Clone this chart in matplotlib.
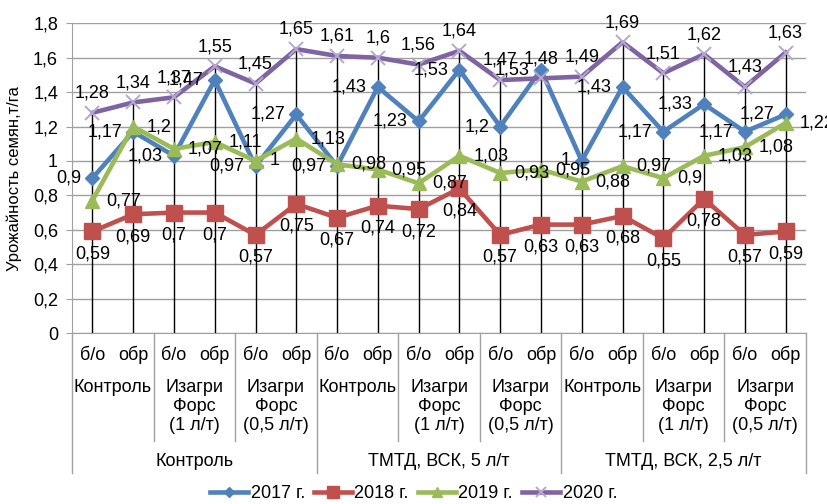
import matplotlib
matplotlib.use("Agg")
import matplotlib.pyplot as plt
from matplotlib.transforms import blended_transform_factory
from matplotlib.lines import Line2D

plt.rcParams['font.family'] = ['Liberation Sans', 'DejaVu Sans']

# данные (т/га)
y2017 = [0.9, 1.17, 1.03, 1.47, 0.97, 1.27, 0.97, 1.43, 1.23, 1.53, 1.2, 1.53, 1.0, 1.43, 1.17, 1.33, 1.17, 1.27]
y2018 = [0.59, 0.69, 0.7, 0.7, 0.57, 0.75, 0.67, 0.74, 0.72, 0.84, 0.57, 0.63, 0.63, 0.68, 0.55, 0.78, 0.57, 0.59]
y2019 = [0.77, 1.2, 1.07, 1.11, 1.0, 1.13, 0.98, 0.95, 0.87, 1.03, 0.93, 0.95, 0.88, 0.97, 0.9, 1.03, 1.08, 1.22]
y2020 = [1.28, 1.34, 1.37, 1.55, 1.45, 1.65, 1.61, 1.6, 1.56, 1.64, 1.47, 1.48, 1.49, 1.69, 1.51, 1.62, 1.43, 1.63]

level1 = ["б/о", "обр"] * 9
level2 = ["Контроль", "Изагри\nФорс\n(1 л/т)", "Изагри\nФорс\n(0,5 л/т)"] * 3
level3 = ["Контроль", "ТМТД, ВСК, 5 л/т", "ТМТД, ВСК, 2,5 л/т"]
years = ["2017 г.", "2018 г.", "2019 г.", "2020 г."]

W, H = 827, 504
fig = plt.figure(figsize=(W / 100, H / 100), dpi=100)
ax = fig.add_axes([72 / W, (H - 333) / H, 734 / W, (333 - 23.3) / H])

FS = 13
x = list(range(len(y2017)))


def fmt(v):
    s = ("%.2f" % v).rstrip("0").rstrip(".")
    return s.replace(".", ",")


# drop lines
tops = [max(a, b, c, d) for a, b, c, d in zip(y2017, y2018, y2019, y2020)]
ax.vlines(x, 0, tops, color="black", lw=1, zorder=2)

series = [
    (y2017, "#4F81BD", "D", 7, "left"),
    (y2018, "#C0504D", "s", 11, "below"),
    (y2019, "#9BBB59", "^", 10, "right"),
    (y2020, "#8064A2", "x", 10, "above"),
]
handles = []
for (ys, col, mk, ms, pos), lab in zip(series, years):
    if mk == "x":
        ln, = ax.plot(x, ys, color=col, lw=3.3, marker=mk, ms=ms, mec="#B4A7D0",
                      mew=1.4, zorder=3, label=lab)
    else:
        ln, = ax.plot(x, ys, color=col, lw=3.3, marker=mk, ms=ms, mec=col,
                      zorder=3, label=lab)
    handles.append(ln)
    for xi, v in zip(x, ys):
        if pos == "above":
            off, ha, va = (0, 8), "center", "bottom"
        elif pos == "below":
            off, ha, va = (0, -10), "center", "top"
        elif pos == "left":
            off, ha, va = (-8, 0), "right", "center"
        else:
            off, ha, va = (10, 0), "left", "center"
        ax.annotate(fmt(v), (xi, v), xytext=off, textcoords="offset points",
                    ha=ha, va=va, fontsize=FS, zorder=5, annotation_clip=False)

ax.set_xlim(-0.5, 17.5)
ax.set_ylim(0, 1.8)
yt = [i * 0.2 for i in range(10)]
ax.set_yticks(yt)
ax.set_yticklabels(["0"] + [fmt(v) for v in yt[1:]], fontsize=FS)
ax.tick_params(axis="y", length=4, color="#A0A0A0", pad=6)
ax.set_xticks([])
ax.grid(axis="y", color="#A0A0A0", lw=1)
ax.set_axisbelow(True)
for s in ["top", "right"]:
    ax.spines[s].set_visible(False)
for s in ["left", "bottom"]:
    ax.spines[s].set_color("#A0A0A0")

ax.set_ylabel("Урожайность семян,т/га", fontsize=12, labelpad=8)

# многоуровневая ось категорий
tr = blended_transform_factory(ax.transData, fig.transFigure)


def fy(py):
    return 1 - py / H


for i, t in enumerate(level1):
    ax.text(i, fy(355), t, transform=tr, ha="center", va="center", fontsize=FS)
for j, t in enumerate(level2):
    ax.text(2 * j + 0.5, fy(379), t, transform=tr, ha="center", va="top",
            fontsize=FS, linespacing=1.15, multialignment="center")
for k, t in enumerate(level3):
    ax.text(6 * k + 2.5, fy(462), t, transform=tr, ha="center", va="center", fontsize=FS)

for b in range(10):
    xb = 2 * b - 0.5
    bottom = 473 if b % 3 == 0 else 441
    fig.add_artist(Line2D([xb, xb], [fy(333), fy(bottom)], transform=tr,
                          color="#A0A0A0", lw=1))

fig.legend(handles=handles, labels=years, loc="center", bbox_to_anchor=(0.5, fy(494)),
           ncol=4, frameon=False, fontsize=FS, handlelength=2.1, handletextpad=0.15,
           columnspacing=0.5, borderaxespad=0, markerscale=0.75)

fig.savefig("out.png", dpi=100)
